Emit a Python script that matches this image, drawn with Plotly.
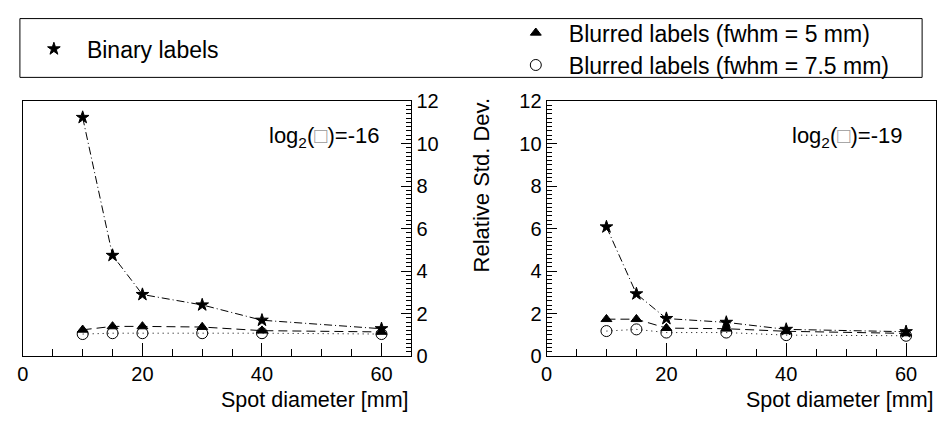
import plotly.graph_objects as go

# ---- data ----
spot = [10, 15, 20, 30, 40, 60]

binary_16 = [11.23, 4.74, 2.90, 2.41, 1.69, 1.29]
blur5_16 = [1.24, 1.40, 1.40, 1.37, 1.20, 1.14]
blur75_16 = [1.04, 1.08, 1.08, 1.08, 1.08, 1.04]

binary_19 = [6.08, 2.93, 1.77, 1.59, 1.26, 1.15]
blur5_19 = [1.74, 1.74, 1.32, 1.29, 1.17, 1.07]
blur75_19 = [1.18, 1.26, 1.11, 1.11, 0.99, 0.96]

names = ["Binary labels", "Blurred labels (fwhm = 5 mm)", "Blurred labels (fwhm = 7.5 mm)"]
panel_labels = ["log<sub>2</sub>(<span style='color:#999'>□</span>)=-16",
                "log<sub>2</sub>(<span style='color:#999'>□</span>)=-19"]
x_ticks = [0, 20, 40, 60]
y_ticks = [0, 2, 4, 6, 8, 10, 12]

FONT = "Liberation Sans, Arial, Helvetica, sans-serif"
W, H = 940, 425

symbols = ["star", "triangle-up", "circle-open"]
sizes = [9.5, 9.5, 11]
dashes = ["8px,3px,1px,3px", "9px,5px", "1px,4px"]
legends = ["legend", "legend2", "legend3"]

fig = go.Figure()

panels = [
    ([binary_16, blur5_16, blur75_16], "x", "y"),
    ([binary_19, blur5_19, blur75_19], "x2", "y2"),
]
for p, (series, xa, ya) in enumerate(panels):
    for i in [2, 1, 0]:
        fig.add_trace(go.Scatter(
            x=spot, y=series[i], mode="lines", xaxis=xa, yaxis=ya,
            line=dict(color="black", width=1, dash=dashes[i]),
            showlegend=False, hoverinfo="skip"))
    for i in [2, 1, 0]:
        fig.add_trace(go.Scatter(
            x=spot, y=series[i], mode="markers", xaxis=xa, yaxis=ya,
            name=names[i],
            marker=dict(symbol=symbols[i], size=sizes[i], color="black",
                        line=dict(color="black", width=1)),
            showlegend=(p == 0), legend=legends[i]))

def px_x(v):
    return v / W

def px_y(v):
    return 1 - v / H

xdom1 = [px_x(17), px_x(408)]
xdom2 = [px_x(544), px_x(936)]
ydom = [px_y(364), px_y(95)]

axis_common = dict(showline=True, linecolor="black", linewidth=1, mirror=True,
                   showgrid=False, zeroline=False,
                   tickfont=dict(family=FONT, size=20, color="black"),
                   ticks="inside", tickcolor="black", tickwidth=1)

xaxis_common = dict(axis_common, range=[0, 65], tickmode="array", tickvals=x_ticks,
                    ticklen=13, ticklabelstandoff=0,
                    minor=dict(dtick=5, tick0=0, ticks="inside", ticklen=7,
                               tickcolor="black", tickwidth=1, showgrid=False))
yaxis_common = dict(axis_common, range=[0, 12], tickmode="array", tickvals=y_ticks,
                    ticklen=10,
                    minor=dict(dtick=0.2, tick0=0, ticks="inside", ticklen=5,
                               tickcolor="black", tickwidth=1, showgrid=False))

leg_common = dict(xanchor="left", yanchor="middle", bgcolor="rgba(0,0,0,0)",
                  font=dict(family=FONT, size=23, color="black"), itemwidth=56)

fig.update_layout(
    width=W, height=H,
    margin=dict(l=0, r=0, t=0, b=0),
    paper_bgcolor="white", plot_bgcolor="white",
    font=dict(family=FONT, size=20, color="black"),
    xaxis=dict(xaxis_common, domain=xdom1, anchor="y"),
    yaxis=dict(yaxis_common, domain=ydom, anchor="x", side="right"),
    xaxis2=dict(xaxis_common, domain=xdom2, anchor="y2"),
    yaxis2=dict(yaxis_common, domain=ydom, anchor="x2", side="left"),
    legend=dict(leg_common, x=px_x(15), y=px_y(40)),
    legend2=dict(leg_common, x=px_x(500), y=px_y(23)),
    legend3=dict(leg_common, x=px_x(500), y=px_y(57)),
    shapes=[dict(type="rect", xref="paper", yref="paper",
                 x0=px_x(14), x1=px_x(922), y0=px_y(70), y1=px_y(8),
                 line=dict(color="black", width=1), fillcolor="rgba(0,0,0,0)")],
    annotations=[
        dict(text=panel_labels[0], xref="paper", yref="paper", x=px_x(378), y=px_y(133),
             xanchor="right", yanchor="middle", showarrow=False, font=dict(size=22)),
        dict(text=panel_labels[1], xref="paper", yref="paper", x=px_x(905), y=px_y(133),
             xanchor="right", yanchor="middle", showarrow=False, font=dict(size=22)),
        dict(text="Spot diameter [mm]", xref="paper", yref="paper", x=px_x(408), y=px_y(410),
             xanchor="right", yanchor="middle", showarrow=False, font=dict(size=21.5)),
        dict(text="Spot diameter [mm]", xref="paper", yref="paper", x=px_x(936), y=px_y(410),
             xanchor="right", yanchor="middle", showarrow=False, font=dict(size=21.5)),
        dict(text="Relative Std. Dev.", xref="paper", yref="paper", x=px_x(479), y=px_y(184),
             xanchor="center", yanchor="middle", showarrow=False, textangle=-90,
             font=dict(size=22)),
    ],
)

fig.write_html("out.html")
